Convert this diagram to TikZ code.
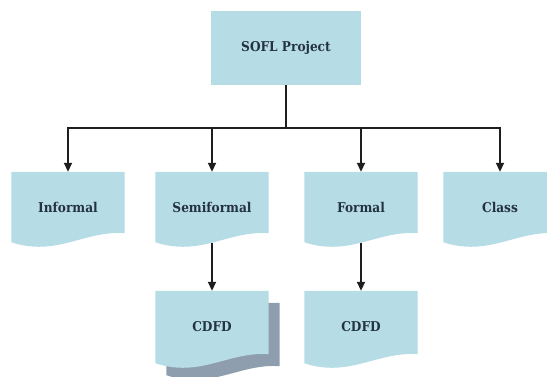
\documentclass[tikz,border=0pt]{standalone}
\usepackage{fontspec}
\setmainfont{DejaVu Serif}
\newfontfamily\labelface{DejaVu Serif Condensed}
\usetikzlibrary{arrows.meta,calc,backgrounds}

\definecolor{boxblue}{HTML}{B6DCE6}
\definecolor{sheetgrey}{HTML}{8E9EAE}
\definecolor{ink}{HTML}{24323F}
\definecolor{wire}{HTML}{1E1E1E}

\tikzset{
  label font/.style={font=\labelface\bfseries\fontsize{13.5}{16}\selectfont, text=ink},
  topbox/.style={label font, fill=boxblue, minimum width=150pt, minimum height=74pt, inner sep=0pt},
  docbox/.style={label font, minimum width=113pt, minimum height=70pt, inner sep=0pt},
  conn/.style={draw=wire, line width=1.8pt, -{Triangle[width=8pt,length=9pt]}},
  plain wire/.style={draw=wire, line width=1.8pt},
}

% wavy-bottom document outline around a named docbox node, moved by an offset
\newcommand\docoutline[2]{%
  ($(#1.north west)+(#2)$) -- ($(#1.north east)+(#2)$) -- ($(#1.south east)+(#2)+(0,-9)$)
  .. controls ($(#1.south east)+(#2)+(-40,-12)$) and ($(#1.south west)+(#2)+(45,15)$) ..
  ($(#1.south west)+(#2)$) -- cycle}

\begin{document}
\begin{tikzpicture}[x=1pt,y=-1pt]
  \useasboundingbox (0,0) rectangle (547,376);

  % root
  \node[topbox] (sofl) at (286,48) {SOFL Project};

  % document row
  \node[docbox] (inf)   at (68,207)  {Informal};
  \node[docbox] (semi)  at (212,207) {Semiformal};
  \node[docbox] (form)  at (361,207) {Formal};
  \node[docbox] (class) at (500,207) {Class};

  % refinements
  \node[docbox, minimum height=72pt] (cdfd1) at (212,327) {CDFD};
  \node[docbox, minimum height=72pt] (cdfd2) at (361,327) {CDFD};

  \begin{scope}[on background layer]
    % stacked-sheet shadow behind the first CDFD
    \fill[sheetgrey] \docoutline{cdfd1}{11,12};
    \foreach \n in {inf,semi,form,class,cdfd1,cdfd2}
      \fill[boxblue] \docoutline{\n}{0,0};
  \end{scope}

  % tree connectors
  \coordinate (bus) at ($(sofl.south)+(0,43)$);
  \draw[plain wire] (sofl.south) -- (bus);
  \draw[conn] (bus) -| (inf.north);
  \draw[conn] (bus) -| (semi.north);
  \draw[conn] (bus) -| (form.north);
  \draw[conn] (bus) -| (class.north);

  \draw[conn] ($(semi.south)+(0,1)$) -- (cdfd1.north);
  \draw[conn] ($(form.south)+(0,1)$) -- (cdfd2.north);
\end{tikzpicture}
\end{document}
